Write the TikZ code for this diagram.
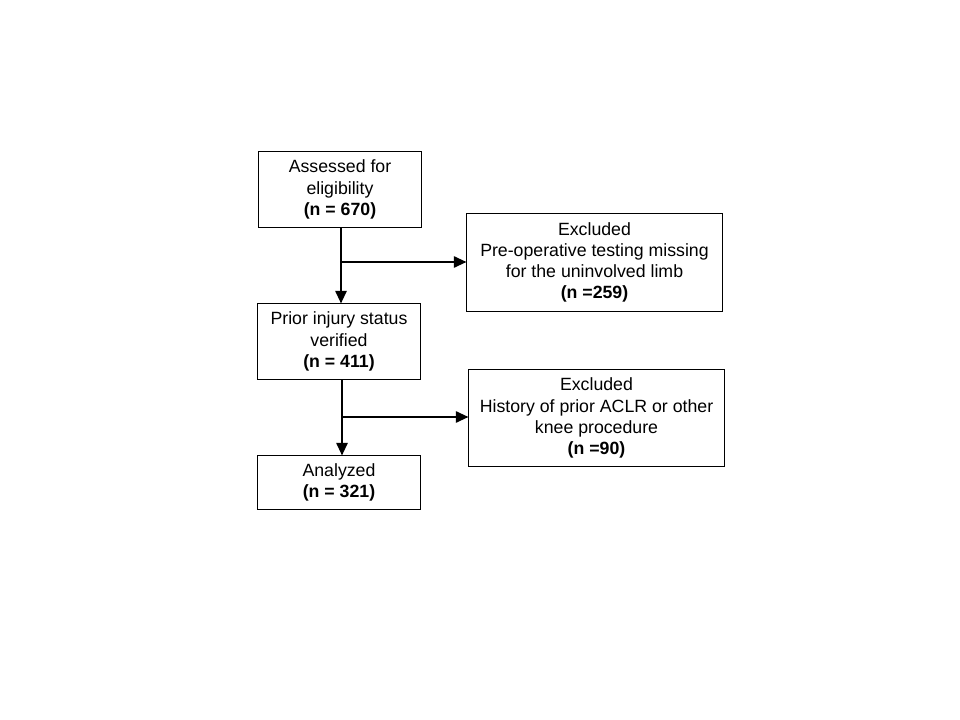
\documentclass[tikz,border=0pt]{standalone}
\usepackage{fontspec}
\setmainfont{Liberation Sans}
\usetikzlibrary{arrows.meta}
\begin{document}
\begin{tikzpicture}[x=0.025cm,y=-0.025cm,
    box/.style={draw, line width=0.7pt, align=center, font=\fontsize{12.6}{15}\selectfont, inner sep=0pt},
    flow/.style={line width=1.5pt, -{Stealth[length=9pt,width=8pt,inset=0pt]}}]
        \useasboundingbox (0,0) rectangle (960,720);
        
        %the main boxes
        \node [box, minimum width=4.05cm, minimum height=1.875cm] (assess) at (340,189.5) {Assessed for\\eligibility\\\textbf{(n = 670)}};
        \node [box, minimum width=6.375cm, minimum height=2.425cm] (excl1) at (594.5,262.5) {Excluded\\Pre-operative testing missing\\for the uninvolved limb\\\textbf{(n =259)}};
        \node [box, minimum width=4.05cm, minimum height=1.875cm] (prior) at (339,341.5) {Prior injury status\\verified\\\textbf{(n = 411)}};
        \node [box, minimum width=6.375cm, minimum height=2.4cm] (excl2) at (596.5,418) {Excluded\\History of prior ACLR or other\\knee procedure\\\textbf{(n =90)}};
        \node [box, minimum width=4.05cm, minimum height=1.325cm] (anal) at (339,482.5) {Analyzed\\\textbf{(n = 321)}};
        
        \coordinate (j1) at (341,262);
        \coordinate (j2) at (342,417);
        
        \draw [flow] (assess.south -| j1) -- (prior.north -| j1);
        \draw [flow] (j1) -- (excl1.west |- j1);
        \draw [flow] (prior.south -| j2) -- (anal.north -| j2);
        \draw [flow] (j2) -- (excl2.west |- j2);
    \end{tikzpicture}
\end{document}
